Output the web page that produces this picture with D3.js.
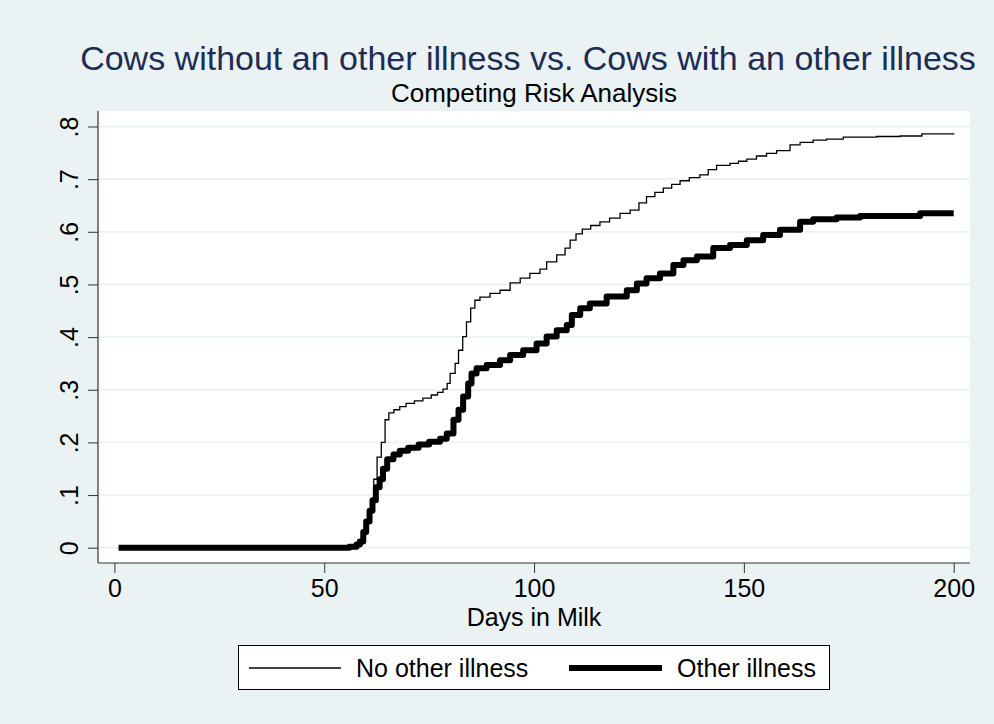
<!DOCTYPE html>
<html>
<head>
<meta charset="utf-8">
<script src="https://cdn.jsdelivr.net/npm/d3@7/dist/d3.min.js"></script>
<style>
  html, body { margin: 0; padding: 0; background: #EAF2F3; }
  svg { display: block; }
  text { font-family: "Liberation Sans", Arial, sans-serif; }
</style>
</head>
<body>
<svg id="chart" width="994" height="724"></svg>
<script>
// ---- Data ----
const titleText = "Cows without an other illness vs. Cows with an other illness";
const subtitleText = "Competing Risk Analysis";
const xLabel = "Days in Milk";
const xTicks = [0, 50, 100, 150, 200];
const yTicks = [0, 0.1, 0.2, 0.3, 0.4, 0.5, 0.6, 0.7, 0.8];
const yTickLabels = ["0", ".1", ".2", ".3", ".4", ".5", ".6", ".7", ".8"];
const seriesNames = ["No other illness", "Other illness"];

// [day, cumulative incidence]
const noOtherIllness = [
  [1,0],[55,0],[56.5,0.002],[57.5,0.005],[58.5,0.012],[59.3,0.025],[60,0.05],[60.6,0.07],
  [61.2,0.09],[61.8,0.13],[62.6,0.172],[63.6,0.2],[64.5,0.243],[65.4,0.256],[66.6,0.262],
  [68,0.268],[69.5,0.274],[71.5,0.279],[73.5,0.284],[75.5,0.29],[77,0.295],[78.3,0.301],
  [79.3,0.312],[80,0.331],[81.2,0.35],[82,0.375],[83,0.401],[83.9,0.429],[84.9,0.455],
  [85.9,0.47],[87.1,0.476],[89.5,0.483],[91.9,0.489],[94.3,0.503],[96.7,0.512],[99,0.521],
  [101.4,0.529],[103,0.543],[105.4,0.556],[107.4,0.569],[108.6,0.584],[110,0.596],
  [111.5,0.605],[113.5,0.612],[115.7,0.619],[118,0.626],[120.5,0.635],[122.9,0.641],
  [125,0.655],[126.8,0.667],[128.8,0.675],[130.8,0.683],[132.8,0.69],[134.8,0.697],
  [137,0.703],[139.5,0.708],[141.5,0.718],[143.5,0.726],[146.7,0.73],[148.7,0.734],
  [150.7,0.738],[153,0.744],[155.4,0.749],[157.8,0.754],[161,0.765],[163.4,0.77],
  [166.5,0.774],[169.7,0.776],[173.7,0.78],[181.6,0.781],[187.2,0.782],[192.4,0.786],[200,0.787]
];
const otherIllness = [
  [1,0],[54,0],[56,0.002],[57.7,0.006],[58.5,0.012],[59.3,0.03],[60,0.05],[60.8,0.07],
  [61.5,0.09],[62.3,0.115],[63.2,0.13],[64,0.15],[65,0.168],[66.5,0.177],[68,0.184],
  [70,0.19],[72.5,0.196],[75,0.201],[77.6,0.207],[79.2,0.217],[80.8,0.243],[82,0.262],
  [83.1,0.287],[84.3,0.312],[85.1,0.331],[86.3,0.341],[88.7,0.347],[91.9,0.356],
  [94.3,0.366],[97.4,0.375],[100.6,0.388],[103,0.401],[105.4,0.413],[107.8,0.423],
  [109,0.442],[111,0.455],[113.3,0.464],[117.3,0.477],[122.1,0.489],[124.5,0.502],
  [126.8,0.512],[130,0.521],[133.2,0.537],[135.6,0.546],[138.8,0.553],[142.7,0.569],
  [146.7,0.575],[150.7,0.584],[154.6,0.594],[158.6,0.604],[163.4,0.619],[166.5,0.624],
  [172.1,0.627],[177.7,0.63],[185.6,0.63],[192,0.635],[200,0.635]
];

// ---- Layout ----
const svg = d3.select("#chart");
const W = 994, H = 724;
const plot = { left: 98, right: 970, top: 111, bottom: 563 };

svg.append("rect").attr("x", 0).attr("y", 0).attr("width", W).attr("height", H).attr("fill", "#EAF2F3");

const x = d3.scaleLinear().domain([0, 200]).range([114.4, 953.7]);
const y = d3.scaleLinear().domain([0, 0.8]).range([547.7, 126.5]);

// plot region
svg.append("rect")
  .attr("x", plot.left).attr("y", plot.top)
  .attr("width", plot.right - plot.left).attr("height", plot.bottom - plot.top)
  .attr("fill", "#ffffff");

// gridlines
svg.append("g").selectAll("line").data(yTicks).join("line")
  .attr("x1", plot.left).attr("x2", plot.right)
  .attr("y1", d => y(d)).attr("y2", d => y(d))
  .attr("stroke", "#EAF2F3").attr("stroke-width", 1.8);

// series
const line = d3.line().x(d => x(d[0])).y(d => y(d[1])).curve(d3.curveStepAfter);
svg.append("path").datum(otherIllness).attr("d", line)
  .attr("fill", "none").attr("stroke", "#000").attr("stroke-width", 6)
  .attr("stroke-linejoin", "round");
svg.append("path").datum(noOtherIllness).attr("d", line)
  .attr("fill", "none").attr("stroke", "#000").attr("stroke-width", 1.3);

// y axis
const yAxis = d3.axisLeft(y).tickValues(yTicks).tickSize(10).tickSizeOuter(0)
  .tickFormat((d, i) => yTickLabels[i]);
const gy = svg.append("g").attr("transform", `translate(${plot.left},0)`).call(yAxis);
gy.select(".domain").remove();
gy.selectAll(".tick line").attr("stroke", "#333").attr("stroke-width", 1);
gy.selectAll(".tick text")
  .attr("x", null).attr("dy", null)
  .attr("text-anchor", "middle")
  .attr("transform", "translate(-20,0) rotate(-90)")
  .attr("font-size", 25).attr("fill", "#000");
svg.append("line").attr("x1", plot.left).attr("x2", plot.left)
  .attr("y1", plot.top).attr("y2", plot.bottom).attr("stroke", "#333").attr("stroke-width", 1.2);

// x axis
const xAxis = d3.axisBottom(x).tickValues(xTicks).tickSize(10).tickSizeOuter(0);
const gx = svg.append("g").attr("transform", `translate(0,${plot.bottom})`).call(xAxis);
gx.select(".domain").remove();
gx.selectAll(".tick line").attr("stroke", "#333").attr("stroke-width", 1);
gx.selectAll(".tick text").attr("y", 34).attr("dy", null)
  .attr("font-size", 25).attr("fill", "#000");
svg.append("line").attr("x1", plot.left).attr("x2", plot.right)
  .attr("y1", plot.bottom).attr("y2", plot.bottom).attr("stroke", "#333").attr("stroke-width", 1.2);

// axis title
svg.append("text").attr("x", 534).attr("y", 626).attr("text-anchor", "middle")
  .attr("font-size", 25).attr("fill", "#000").text(xLabel);

// titles
svg.append("text").attr("x", 528).attr("y", 70).attr("text-anchor", "middle")
  .attr("font-size", 34).attr("fill", "#1E2D53").text(titleText);
svg.append("text").attr("x", 534).attr("y", 102).attr("text-anchor", "middle")
  .attr("font-size", 26).attr("fill", "#000").text(subtitleText);

// legend
const lg = svg.append("g");
lg.append("rect").attr("x", 238.5).attr("y", 645.5).attr("width", 591).attr("height", 44)
  .attr("fill", "#fff").attr("stroke", "#000").attr("stroke-width", 1);
const legendItems = [
  { name: seriesNames[0], x1: 249, x2: 341, tx: 356, w: 1.3 },
  { name: seriesNames[1], x1: 569, x2: 662, tx: 677, w: 6 }
];
legendItems.forEach(it => {
  lg.append("line").attr("x1", it.x1).attr("x2", it.x2).attr("y1", 668).attr("y2", 668)
    .attr("stroke", "#000").attr("stroke-width", it.w);
  lg.append("text").attr("x", it.tx).attr("y", 677).attr("font-size", 25)
    .attr("fill", "#000").text(it.name);
});
</script>
</body>
</html>
